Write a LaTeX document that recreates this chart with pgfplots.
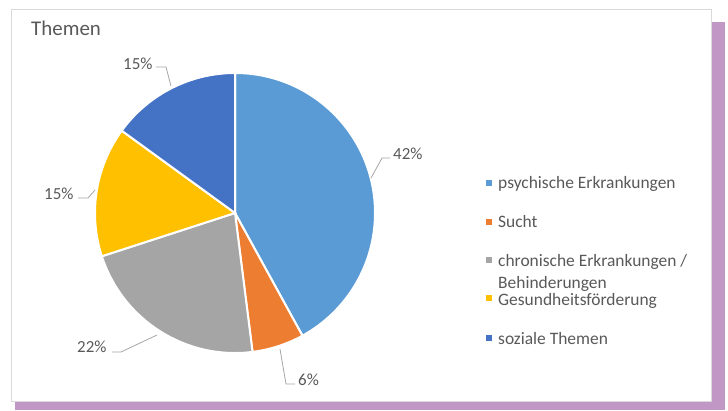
\documentclass[border=0pt]{standalone}
\usepackage{pgfplots}
\pgfplotsset{compat=1.18}
\usepackage{fontspec}
\setmainfont{Carlito}
\definecolor{c1}{HTML}{5B9BD5}
\definecolor{c2}{HTML}{ED7D31}
\definecolor{c3}{HTML}{A5A5A5}
\definecolor{c4}{HTML}{FFC000}
\definecolor{c5}{HTML}{4472C4}
\definecolor{txt}{HTML}{595959}
\definecolor{purp}{HTML}{C197C6}
\definecolor{frame}{HTML}{D9D9D9}
\definecolor{lead}{HTML}{A6A6A6}
% slice: start angle, value (percent), colour
\newcommand\slice[3]{\fill[#3,draw=white,line width=2bp] (axis cs:235,197) -- ++({#1}:140bp) arc[start angle={#1}, end angle={#1-3.6*#2}, radius=140bp] -- cycle;}
\begin{document}
\begin{tikzpicture}
\begin{axis}[x=1bp,y=1bp,xmin=0,xmax=728,ymin=0,ymax=410,hide axis,clip=false]
\path (axis cs:0,0) rectangle (axis cs:728,410);
\fill[purp] (axis cs:15,0) rectangle (axis cs:725,388);
\filldraw[fill=white,draw=frame,line width=0.8bp] (axis cs:11,9) rectangle (axis cs:711,401);
% values: psychische 42, Sucht 6, chronische 22, Gesundheit 15, soziale 15
\slice{90}{42}{c1}
\slice{90-3.6*42}{6}{c2}
\slice{90-3.6*48}{22}{c3}
\slice{90-3.6*70}{15}{c4}
\slice{90-3.6*85}{15}{c5}
% title
\node[anchor=base west,inner sep=0,text=txt,font=\fontsize{21}{24}\selectfont] at (axis cs:31,375) {Themen};
% data labels
\begin{scope}[every node/.style={anchor=base west,inner sep=0,text=txt,font=\fontsize{17}{20}\selectfont}]
\node at (axis cs:393,251) {42\%};
\node at (axis cs:298,25) {6\%};
\node at (axis cs:77,58) {22\%};
\node at (axis cs:44,211) {15\%};
\node at (axis cs:123,341) {15\%};
\end{scope}
\draw[lead,line width=0.8bp] (axis cs:371,232) -- (axis cs:382,252) -- (axis cs:390,252);
\draw[lead,line width=0.8bp] (axis cs:280,61) -- (axis cs:286,26) -- (axis cs:295,26);
\draw[lead,line width=0.8bp] (axis cs:112,58) -- (axis cs:121,58) -- (axis cs:157,75);
\draw[lead,line width=0.8bp] (axis cs:78,212) -- (axis cs:88,212) -- (axis cs:95,220);
\draw[lead,line width=0.8bp] (axis cs:156,343) -- (axis cs:166,343) -- (axis cs:171,324);
% legend
\fill[c1] (axis cs:486,224) rectangle (axis cs:492,230);
\fill[c2] (axis cs:486,185) rectangle (axis cs:492,191);
\fill[c3] (axis cs:486,147) rectangle (axis cs:492,153);
\fill[c4] (axis cs:486,109) rectangle (axis cs:492,115);
\fill[c5] (axis cs:486,69) rectangle (axis cs:492,75);
\begin{scope}[every node/.style={anchor=base west,inner sep=0,text=txt,font=\fontsize{17.5}{20}\selectfont}]
\node at (axis cs:498,222) {psychische Erkrankungen};
\node at (axis cs:498,183) {Sucht};
\node at (axis cs:498,144) {chronische Erkrankungen /};
\node at (axis cs:498,122) {Behinderungen};
\node at (axis cs:498,105) {Gesundheitsförderung};
\node at (axis cs:498,66) {soziale Themen};
\end{scope}
\end{axis}
\end{tikzpicture}
\end{document}
